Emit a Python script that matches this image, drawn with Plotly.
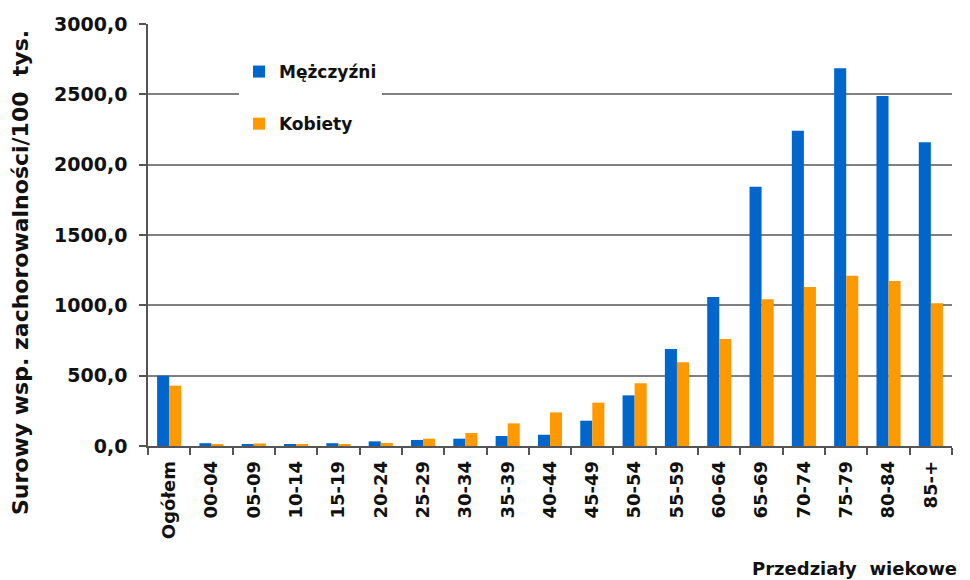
import plotly.graph_objects as go

categories = ["Ogółem", "00-04", "05-09", "10-14", "15-19", "20-24", "25-29", "30-34",
              "35-39", "40-44", "45-49", "50-54", "55-59", "60-64", "65-69", "70-74",
              "75-79", "80-84", "85-+"]
men = [500, 20, 8, 10, 20, 33, 43, 52, 71, 80, 180, 360, 690, 1059, 1843, 2241, 2685, 2488, 2159]
women = [429, 10, 18, 10, 12, 21, 52, 92, 161, 239, 308, 446, 595, 760, 1043, 1130, 1211, 1173, 1014]
series_names = ["Mężczyźni", "Kobiety"]
y_ticks = [0, 500, 1000, 1500, 2000, 2500, 3000]

FONT = "DejaVu Sans"
TXT = "#111111"

# page offset (browser default body margin)
OFF = 8
PL, PR, PT, PB = 148, 952, 24, 446  # plot area in page pixels
PW, PH = PR - PL, PB - PT


def px(x):
    return (x - PL) / PW


def py(y):
    return (PB - y) / PH


fig = go.Figure()
fig.add_trace(go.Bar(x=categories, y=men, name=series_names[0], legendgroup="m",
                     marker=dict(color="#0066CC", line=dict(width=0))))
fig.add_trace(go.Bar(x=categories, y=women, name=series_names[1], legendgroup="k",
                     marker=dict(color="#FF9900", line=dict(width=0))))

fig.update_layout(
    width=970, height=580,
    margin=dict(l=PL - OFF, r=970 - (PR - OFF), t=PT - OFF, b=580 - (PB - OFF), autoexpand=False),
    paper_bgcolor="white", plot_bgcolor="white",
    barmode="group", bargap=0.43, bargroupgap=0,
    separators=", ",
    font=dict(family=FONT, color=TXT, size=16, weight=700),
    legend=dict(x=px(239), y=py(54), xanchor="left", yanchor="top",
                bgcolor="white", borderwidth=0, tracegroupgap=27,
                font=dict(family=FONT, size=17, color=TXT, weight=700)),
    xaxis=dict(type="category", tickson="boundaries", ticks="outside", ticklen=7,
               tickcolor="#555555", tickwidth=1.5, showline=True, linecolor="#555555",
               linewidth=1.5, tickangle=-90, showgrid=False, automargin=False,
               ticklabelstandoff=6,
               tickfont=dict(family=FONT, size=18, color=TXT, weight=700)),
    yaxis=dict(range=[0, 3000], tickvals=y_ticks, tickformat=".1f",
               ticks="outside", ticklen=7, tickcolor="#555555", tickwidth=1.5,
               showline=True, linecolor="#555555", linewidth=1.5, automargin=False,
               showgrid=True, gridcolor="#808080", gridwidth=1.5, zeroline=False,
               ticklabelstandoff=8,
               tickfont=dict(family=FONT, size=19, color=TXT, weight=700)),
    annotations=[
        dict(text="Surowy wsp. zachorowalności/100  tys.", xref="paper", yref="paper",
             x=px(20), y=py(273), textangle=-90, showarrow=False,
             xanchor="center", yanchor="middle",
             font=dict(family=FONT, size=22, color=TXT, weight=700)),
        dict(text="Przedziały  wiekowe", xref="paper", yref="paper",
             x=px(750), y=py(581), showarrow=False,
             xanchor="left", yanchor="bottom",
             font=dict(family=FONT, size=18, color=TXT, weight=700)),
    ],
)

fig.write_html("out.html")
